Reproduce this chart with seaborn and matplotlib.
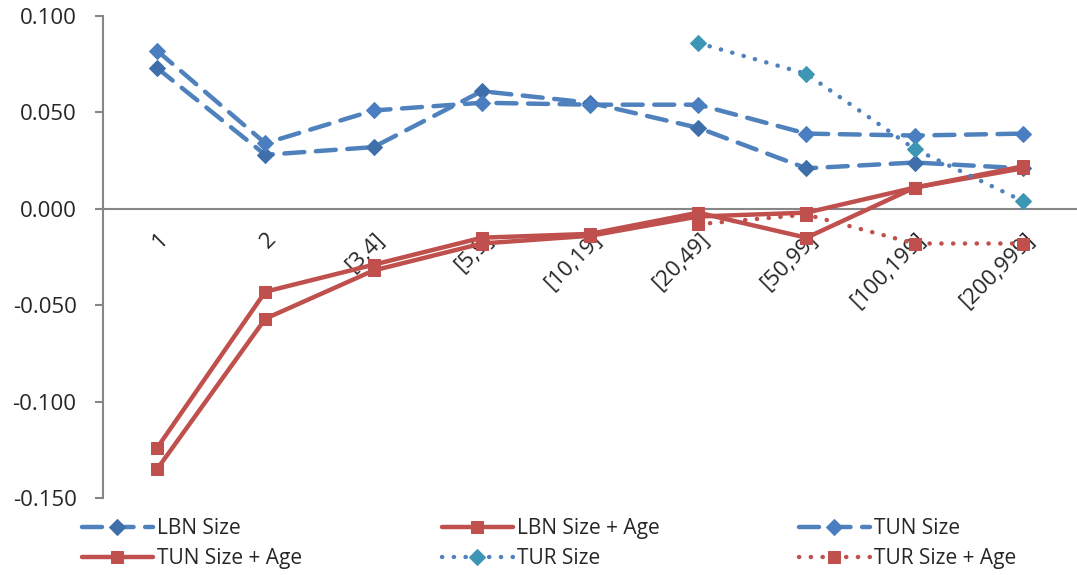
import matplotlib
matplotlib.use("Agg")
import matplotlib.pyplot as plt
import matplotlib.transforms as mtransforms
import seaborn as sns
import numpy as np

categories = ["1", "2", "[3,4]", "[5,9]", "[10,19]", "[20,49]", "[50,99]", "[100,199]", "[200,999]"]

lbn_size = [0.073, 0.028, 0.032, 0.061, 0.055, 0.042, 0.021, 0.024, 0.021]
lbn_size_age = [-0.124, -0.043, -0.029, -0.015, -0.013, -0.002, -0.015, 0.011, 0.022]
tun_size = [0.082, 0.034, 0.051, 0.055, 0.054, 0.054, 0.039, 0.038, 0.039]
tun_size_age = [-0.135, -0.057, -0.032, -0.018, -0.014, -0.004, -0.002, 0.011, 0.021]
tur_size = [np.nan, np.nan, np.nan, np.nan, np.nan, 0.086, 0.070, 0.031, 0.004]
tur_size_age = [np.nan, np.nan, np.nan, np.nan, np.nan, -0.008, -0.003, -0.018, -0.018]

sns.set_style("white")
plt.rcParams["font.family"] = ["Open Sans", "DejaVu Sans"]
plt.rcParams["axes.unicode_minus"] = False

blue = "#4F81BD"
red = "#C0504D"

fig = plt.figure(figsize=(10.77, 5.75), dpi=100)
ax = fig.add_axes([103 / 1077, 1 - 498 / 575, 1 - 103 / 1077, (498 - 16) / 575])

x = np.arange(len(categories))
dash = (0, (4.5, 2.6))
dot = (0, (0.05, 2.6))

# series, in Excel drawing order
series = [
    ("LBN Size", lbn_size, blue, dash, "D", "#3F6FAA", 8),
    ("LBN Size + Age", lbn_size_age, red, "-", "s", red, 9),
    ("TUN Size", tun_size, blue, dash, "D", "#4A7EC0", 8),
    ("TUN Size + Age", tun_size_age, red, "-", "s", red, 9),
    ("TUR Size", tur_size, blue, dot, "D", "#3D97B4", 8),
    ("TUR Size + Age", tur_size_age, red, dot, "s", red, 9),
]

for name, vals, col, ls, mk, mcol, ms in series:
    sns.lineplot(x=x, y=vals, ax=ax, color=col, linestyle=ls, linewidth=3.2,
                 marker=mk, markersize=ms, markerfacecolor=mcol, markeredgecolor=mcol,
                 dash_capstyle="round", solid_capstyle="round", label=name, sort=False)

ax.set_axisbelow(True)  # lines go over the category labels, as in Excel
ax.set_ylim(-0.15, 0.10)
ax.set_xlim(-0.5, 8.44)
ax.set_yticks([-0.15, -0.10, -0.05, 0.0, 0.05, 0.10])
ax.set_yticklabels(["-0.150", "-0.100", "-0.050", "0.000", "0.050", "0.100"], fontsize=16)

# x axis sits at zero, ticks at category boundaries, labels at centres
ax.spines["bottom"].set_position(("data", 0))
ax.spines["top"].set_visible(False)
ax.spines["right"].set_visible(False)
for s in ("left", "bottom"):
    ax.spines[s].set_color("#868686")
    ax.spines[s].set_linewidth(1.5)
    ax.spines[s].set_zorder(1)
ax.set_xticks(np.arange(-0.5, 9, 1))
ax.set_xticklabels([])
ax.set_xticks(x, minor=True)
ax.set_xticklabels(categories, minor=True, rotation=45, ha="right", va="center",
                   rotation_mode="anchor", fontsize=16)
ax.tick_params(axis="x", which="major", direction="out", length=6, color="#868686", width=1.5)
ax.tick_params(axis="x", which="minor", length=0, pad=20)
ax.tick_params(axis="y", direction="out", length=6, color="#868686", width=1.5, left=True, pad=13)
ax.set_xlabel("")
ax.set_ylabel("")

shift = mtransforms.ScaledTranslation(8 / 100, 0, fig.dpi_scale_trans)
for lab in ax.get_xticklabels(minor=True):
    lab.set_transform(lab.get_transform() + shift)

handles, labels = ax.get_legend_handles_labels()
ax.get_legend().remove()
order = [0, 3, 1, 4, 2, 5]
fig.legend([handles[i] for i in order], [labels[i] for i in order],
           loc="upper left", bbox_to_anchor=(82 / 1077, 1 - 518 / 575), ncol=3,
           frameon=False, fontsize=15, handlelength=3.4, handletextpad=0.2,
           columnspacing=6.7, labelspacing=0.45, borderpad=0, borderaxespad=0)

fig.savefig("out.png", dpi=100)
